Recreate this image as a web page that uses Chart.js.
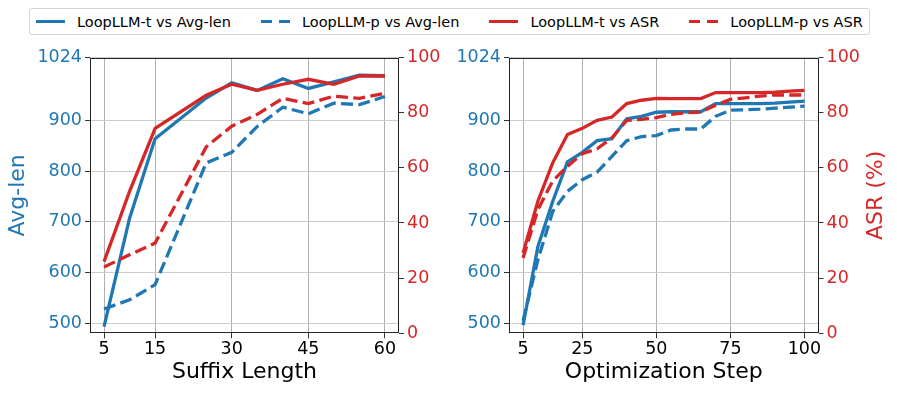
<!DOCTYPE html>
<html>
<head>
<meta charset="utf-8">
<script src="https://cdn.jsdelivr.net/npm/chart.js@4.4.1/dist/chart.umd.min.js"></script>
<style>
body { margin: 0; width: 897px; height: 396px; background: #fff; position: relative; overflow: hidden; font-family: "DejaVu Sans", sans-serif; }
#legend { position: absolute; left: 29px; top: 8px; height: 27px; box-sizing: border-box; border: 1px solid #d5d5d5; border-radius: 3px; display: flex; align-items: center; padding: 0 6px; font-size: 14.5px; color: #000; white-space: nowrap; }
.item { display: flex; align-items: center; margin-right: 30px; }
.item:last-child { margin-right: 0; }
.swatch { width: 29px; height: 3.4px; margin-right: 12px; }
canvas { position: absolute; top: 40px; }
#suffixChart { left: 0; }
#stepChart { left: 448px; }
</style>
</head>
<body>
<div id="legend"></div>
<canvas id="suffixChart" width="448" height="356"></canvas>
<canvas id="stepChart" width="449" height="356"></canvas>
<script>
const BLUE = '#1f77b4';
const RED = '#d62728';

// left panel: suffix length
const suffixLengths = [5, 10, 15, 25, 30, 35, 40, 45, 50, 55, 60];
const suffixLenT = [493, 707, 864, 944, 974, 959, 982, 963, 976, 989, 988];
const suffixLenP = [528, 546, 576, 816, 837, 888, 926, 913, 934, 931, 947];
const suffixAsrT = [26, 51.5, 74.3, 86.3, 90.3, 88.1, 90.3, 92.1, 90.3, 93.3, 93.3];
const suffixAsrP = [24, 28.5, 32.7, 67.6, 75.1, 79.4, 85.2, 83.3, 86, 85.2, 87];

// right panel: optimization step
const steps = [5, 10, 15, 20, 25, 30, 35, 40, 45, 50, 55, 60, 65, 70, 75, 80, 85, 90, 95, 100];
const stepLenT = [496, 651, 740, 818, 837, 860, 864, 903, 908, 916, 917, 917, 917, 933, 933, 933, 933, 934, 936, 938];
const stepLenP = [505, 625, 720, 760, 783, 798, 829, 860, 868, 870, 881, 883, 883, 908, 920, 921, 922, 924, 926, 928];
const stepAsrT = [29.1, 47.9, 61.8, 72.1, 74.3, 77.2, 78.4, 83.3, 84.5, 85.2, 85.1, 85.1, 85.1, 87.3, 87.3, 87.3, 87.3, 87.4, 87.8, 88.1];
const stepAsrP = [27.3, 44.8, 55.2, 60.6, 65.1, 66.9, 70.9, 77.2, 77.6, 78.2, 79.4, 80, 80.2, 82.7, 84.8, 85.4, 86, 86.4, 86.4, 86.4];

const lenTicks = [500, 600, 700, 800, 900, 1024];
const asrTicks = [0, 20, 40, 60, 80, 100];
const suffixTicks = [5, 15, 30, 45, 60];
const stepTicks = [5, 25, 50, 75, 100];

const seriesNames = ['LoopLLM-t vs Avg-len', 'LoopLLM-p vs Avg-len', 'LoopLLM-t vs ASR', 'LoopLLM-p vs ASR'];
const seriesColors = [BLUE, BLUE, RED, RED];
const seriesDashed = [false, true, false, true];

Chart.defaults.font.family = '"DejaVu Sans", sans-serif';

//#region Legend

const legend = document.getElementById('legend');
seriesNames.forEach((name, i) => {
    const item = document.createElement('div');
    item.className = 'item';
    const swatch = document.createElement('div');
    swatch.className = 'swatch';
    const c = seriesColors[i];
    swatch.style.background = seriesDashed[i]
        ? `linear-gradient(90deg, ${c} 0 11px, transparent 11px 18px, ${c} 18px 29px)`
        : c;
    const label = document.createElement('span');
    label.textContent = name;
    item.appendChild(swatch);
    item.appendChild(label);
    legend.appendChild(item);
});

//#endregion

const framePlugin = {
    id: 'frame',
    afterDatasetsDraw(chart) {
        const { ctx, chartArea: a } = chart;
        ctx.save();
        ctx.strokeStyle = '#222';
        ctx.lineWidth = 1;
        const l = Math.round(a.left) + 0.5, t = Math.round(a.top) + 0.5;
        const r = Math.round(a.right) - 0.5, b = Math.round(a.bottom) - 0.5;
        ctx.strokeRect(l, t, r - l, b - t);
        ctx.restore();
    }
};

const asrTitlePlugin = {
    id: 'asrTitle',
    afterDraw(chart) {
        const { ctx, chartArea: a } = chart;
        ctx.save();
        ctx.translate(a.right + 57.5, (a.top + a.bottom) / 2);
        ctx.rotate(-Math.PI / 2);
        ctx.font = '22px "DejaVu Sans"';
        ctx.fillStyle = RED;
        ctx.textAlign = 'center';
        ctx.textBaseline = 'middle';
        ctx.fillText('ASR (%)', 0, 0);
        ctx.restore();
    }
};

function toPoints(xs, ys) {
    return xs.map((x, i) => ({ x: x, y: ys[i] }));
}

function line(label, xs, ys, color, dashed, axis) {
    return {
        label: label,
        data: toPoints(xs, ys),
        borderColor: color,
        backgroundColor: color,
        borderWidth: 3.3,
        borderDash: dashed ? [12, 5.3] : [],
        pointRadius: 0,
        tension: 0,
        yAxisID: axis
    };
}

function makeChart(id, xs, lenT, lenP, asrT, asrP, xTicks, xMin, xMax, xTitle, leftW, rightW, showLenTitle, plugins) {
    const tickFont = { size: 17.5 };
    const config = {
        type: 'line',
        data: {
            datasets: [
                line(seriesNames[2], xs, asrT, RED, false, 'y2'),
                line(seriesNames[3], xs, asrP, RED, true, 'y2'),
                line(seriesNames[0], xs, lenT, BLUE, false, 'y'),
                line(seriesNames[1], xs, lenP, BLUE, true, 'y')
            ]
        },
        options: {
            responsive: false,
            animation: false,
            devicePixelRatio: 1,
            layout: { padding: { top: 17.5, left: 0, right: 0, bottom: 0 } },
            plugins: { legend: { display: false }, tooltip: { enabled: false } },
            scales: {
                x: {
                    type: 'linear',
                    min: xMin,
                    max: xMax,
                    afterBuildTicks: s => { s.ticks = xTicks.map(v => ({ value: v })); },
                    afterFit: s => { s.height = 62.7; },
                    ticks: { font: tickFont, color: '#000', padding: 1, maxRotation: 0, autoSkip: false, callback: v => String(v) },
                    grid: { color: '#b0b0b0', lineWidth: 1, tickColor: '#333', tickLength: 5 },
                    border: { display: false },
                    title: { display: true, text: xTitle, color: '#000', font: { size: 22 }, padding: { top: 0, bottom: 11 } }
                },
                y: {
                    type: 'linear',
                    position: 'left',
                    min: 480,
                    max: 1024,
                    afterBuildTicks: s => { s.ticks = lenTicks.map(v => ({ value: v })); },
                    afterFit: s => { s.width = leftW; },
                    ticks: { font: tickFont, color: BLUE, padding: 3, callback: v => String(v) },
                    grid: { color: '#cccccc', lineWidth: 1, tickColor: '#333', tickLength: 5 },
                    border: { display: false },
                    title: { display: showLenTitle, text: 'Avg-len', color: BLUE, font: { size: 22 }, padding: { top: 5, bottom: 0 } }
                },
                y2: {
                    type: 'linear',
                    position: 'right',
                    min: 0,
                    max: 100,
                    afterBuildTicks: s => { s.ticks = asrTicks.map(v => ({ value: v })); },
                    afterFit: s => { s.width = rightW; },
                    ticks: { font: tickFont, color: RED, padding: 3, callback: v => String(v) },
                    grid: { drawOnChartArea: false, tickColor: '#333', tickLength: 5 },
                    border: { display: false }
                }
            }
        },
        plugins: plugins
    };
    return new Chart(document.getElementById(id), config);
}

makeChart('suffixChart', suffixLengths, suffixLenT, suffixLenP, suffixAsrT, suffixAsrP,
    suffixTicks, 2.25, 62.75, 'Suffix Length', 90, 49, true, [framePlugin]);

makeChart('stepChart', steps, stepLenT, stepLenP, stepAsrT, stepAsrP,
    stepTicks, 0.25, 104.75, 'Optimization Step', 61, 78.5, false, [framePlugin, asrTitlePlugin]);
</script>
</body>
</html>
